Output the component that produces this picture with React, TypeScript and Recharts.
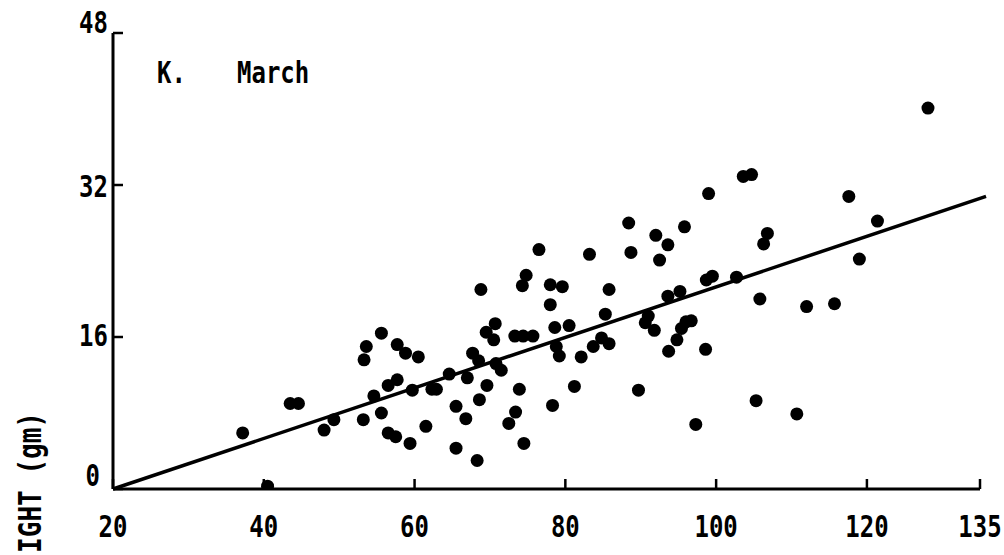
import { ScatterChart, Scatter, XAxis, YAxis, ReferenceLine } from "recharts";

// length (x) and weight (y)
const lengths = [
  37.2, 40.5, 43.5, 44.6, 48.0, 49.3, 53.2, 53.3, 53.6, 54.6, 55.6, 55.6, 56.5, 57.7, 57.7, 58.8, 60.5,
  56.5, 57.5, 59.4, 59.7, 61.5, 62.3, 62.9, 64.6, 65.5, 65.5, 66.8, 67.0, 67.7, 68.5, 68.6, 68.3, 68.8,
  69.5, 70.7, 70.5, 69.6, 70.8, 71.5, 73.4, 72.5, 73.9, 74.5, 73.3, 74.4, 75.7, 74.3, 74.8, 76.5, 78.0,
  79.6, 78.0, 78.6, 80.5, 78.8, 79.2, 78.3, 82.1, 81.2, 83.2, 83.7, 84.8, 85.8, 85.8, 85.3, 89.7, 88.4,
  88.7, 92.0, 93.6, 92.5, 95.8, 99.0, 103.6, 104.7, 93.6, 95.2, 98.7, 99.5, 102.7, 91.0, 90.6, 91.8,
  95.4, 96.0, 96.7, 94.8, 93.7, 98.6, 97.3, 105.3, 105.8, 106.8, 106.3, 112.0, 115.7, 117.6, 121.4,
  119.0, 110.7, 128.1,
];
const weights = [
  5.9, 0.3, 9.0, 9.0, 6.2, 7.3, 7.3, 13.6, 15.0, 9.8, 16.4, 8.0, 10.9, 11.5, 15.2, 14.3, 13.9,
  5.9, 5.5, 4.8, 10.4, 6.6, 10.5, 10.5, 12.1, 8.7, 4.3, 7.4, 11.7, 14.3, 13.5, 9.4, 3.0, 21.0,
  16.5, 17.4, 15.7, 10.9, 13.2, 12.5, 8.1, 6.9, 10.5, 4.8, 16.1, 16.1, 16.1, 21.4, 22.5, 25.2, 21.5,
  21.3, 19.4, 17.0, 17.2, 15.0, 14.0, 8.8, 13.9, 10.8, 24.7, 15.0, 15.9, 15.3, 21.0, 18.4, 10.4, 28.0,
  24.9, 26.7, 25.7, 24.1, 27.6, 31.1, 32.9, 33.1, 20.3, 20.8, 22.0, 22.4, 22.3, 18.2, 17.5, 16.7,
  16.9, 17.6, 17.7, 15.7, 14.5, 14.7, 6.8, 9.3, 20.0, 26.9, 25.8, 19.2, 19.5, 30.8, 28.2,
  24.2, 7.9, 40.1,
];
const xTicks = [20, 40, 60, 80, 100, 120, 135];
const yTicks = [0, 16, 32, 48];
const fitLine = [
  { x: 20, y: 0 },
  { x: 135.8, y: 30.8 },
];

const points = lengths.map((x, i) => ({ x, y: weights[i] }));

const FONT = "'DejaVu Sans Mono', monospace";
// tickSize 0 gets replaced by the default, so keep it at 1 and hide the built-in tick line
const X_GAP = 28; // tickSize + tickMargin on the x axis
const Y_GAP = 5;
const TICK_LEN = 10;

// typewriter lettering in the scan is tall and narrow: stretch mono text vertically
const Tall = ({ x, y, anchor = "start", rotate = 0, size = 24, children }: any) => (
  <text
    transform={`translate(${x} ${y}) rotate(${rotate}) scale(1 1.22)`}
    textAnchor={anchor}
    fontFamily={FONT}
    fontWeight="bold"
    fontSize={size}
    fill="#000"
  >
    {children}
  </text>
);

// nudges for the y labels, they sit a bit off the tick in the scan
const yLabelDy: Record<number, number> = { 0: -3, 16: 9, 32: 12, 48: 0 };
const yLabelDx: Record<number, number> = { 0: -8 };

// tick marks point inward on this plot, so draw them with the label
const XTick = (props: any) => {
  const { x, y, payload } = props;
  const axisY = y - X_GAP;
  return (
    <g>
      <line x1={x} x2={x} y1={axisY} y2={axisY - TICK_LEN} stroke="#000" strokeWidth={2.5} />
      <Tall x={x} y={y + 20} anchor="middle">
        {payload.value}
      </Tall>
    </g>
  );
};

const YTick = (props: any) => {
  const { x, y, payload } = props;
  const axisX = x + Y_GAP;
  return (
    <g>
      <line x1={axisX} x2={axisX + TICK_LEN} y1={y} y2={y} stroke="#000" strokeWidth={2.5} />
      <Tall x={x + (yLabelDx[payload.value] ?? 0)} y={y + (yLabelDy[payload.value] ?? 0)} anchor="end">
        {payload.value}
      </Tall>
    </g>
  );
};

const Dot = (props: any) => <circle cx={props.cx} cy={props.cy} r={6.5} fill="#000" />;

export default function App() {
  return (
    <div style={{ position: "absolute", left: 0, top: 0, background: "#fff" }}>
      <ScatterChart width={1004} height={555} margin={{ top: 33, right: 24, bottom: 26, left: 53 }}>
        <XAxis
          type="number"
          dataKey="x"
          domain={[20, 135]}
          ticks={xTicks}
          height={40}
          tickSize={1}
          tickMargin={X_GAP - 1}
          axisLine={{ stroke: "#000", strokeWidth: 3 }}
          tickLine={false}
          tick={<XTick />}
          allowDataOverflow
        />
        <YAxis
          type="number"
          dataKey="y"
          domain={[0, 48]}
          ticks={yTicks}
          width={60}
          tickSize={1}
          tickMargin={Y_GAP - 1}
          axisLine={{ stroke: "#000", strokeWidth: 3 }}
          tickLine={false}
          tick={<YTick />}
          allowDataOverflow
        />
        <ReferenceLine
          segment={fitLine}
          stroke="#000"
          strokeWidth={3.5}
          ifOverflow="visible"
        />
        <Scatter data={points} shape={<Dot />} isAnimationActive={false} />
        <Tall x={157} y={83}>
          K.
        </Tall>
        <Tall x={237} y={83}>
          March
        </Tall>
        <Tall x={41} y={412} anchor="end" rotate={-90} size={26}>
          IGHT (gm)
        </Tall>
      </ScatterChart>
    </div>
  );
}
